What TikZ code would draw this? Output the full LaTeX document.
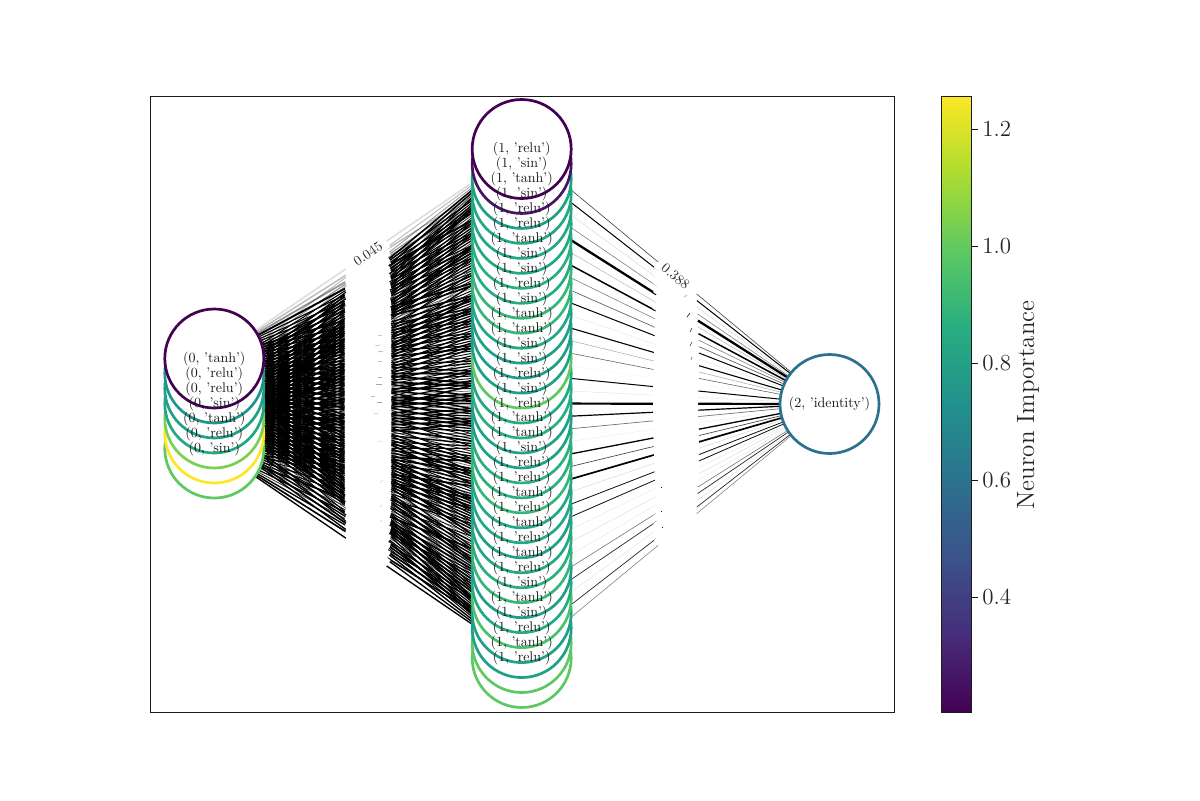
\documentclass[tikz,border=0pt]{standalone}
\usetikzlibrary{calc}
\pgfdeclarelayer{paper}\pgfdeclarelayer{edges}\pgfdeclarelayer{bands}\pgfdeclarelayer{labels}
\pgfsetlayers{paper,edges,bands,main,labels}
\definecolor{framec}{HTML}{1A1A1A}
\definecolor{va}{HTML}{440154}\definecolor{vb}{HTML}{471365}
\definecolor{vc}{HTML}{1F968B}\definecolor{vd}{HTML}{1F9E89}
\definecolor{ve}{HTML}{1FA187}\definecolor{vf}{HTML}{22A884}
\definecolor{vg}{HTML}{25AB82}\definecolor{vh}{HTML}{2AB07F}
\definecolor{vi}{HTML}{35B779}\definecolor{vj}{HTML}{4AC16D}
\definecolor{vk}{HTML}{5EC962}\definecolor{vl}{HTML}{7AD151}
\definecolor{vm}{HTML}{FDE725}\definecolor{vn}{HTML}{2C728E}
\definecolor{v0}{HTML}{440154}\definecolor{v1}{HTML}{472D7B}
\definecolor{v2}{HTML}{3B528B}\definecolor{v3}{HTML}{2C728E}
\definecolor{v4}{HTML}{21918C}\definecolor{v5}{HTML}{28AE80}
\definecolor{v6}{HTML}{5EC962}\definecolor{v7}{HTML}{ADDC30}
\definecolor{v8}{HTML}{FDE725}
\pgfdeclareverticalshading{viridisbar}{100bp}{color(0bp)=(v0); color(25bp)=(v0); color(31.25bp)=(v1); color(37.5bp)=(v2); color(43.75bp)=(v3); color(50bp)=(v4); color(56.25bp)=(v5); color(62.5bp)=(v6); color(68.75bp)=(v7); color(75bp)=(v8); color(100bp)=(v8)}
\tikzset{
  neuron/.style={circle,draw=#1,fill=white,line width=1.35pt,minimum size=49.5pt,inner sep=0pt},
  nlabel/.style={inner sep=0pt,scale=0.7,font=\fontsize{10}{12}\selectfont,text=black!90},
  elabel/.style={inner sep=0pt,scale=0.7,font=\fontsize{10}{12}\selectfont,text=black!85},
  bandline/.style={white,line width=7pt},
  ticktext/.style={anchor=west,inner sep=0pt,font=\fontsize{11.5}{13}\selectfont,text=black!85},
  remnant/.style={line width=0.3pt,black},
}
\begin{document}
\begin{tikzpicture}[x=0.5pt,y=-0.5pt]
\useasboundingbox (0,0) rectangle (1200,800);
\begin{pgfonlayer}{paper}
\fill[white] (0,0) rectangle (1200,800);
\end{pgfonlayer}
% output node
\node[neuron=vn] (c) at (829.5,404) {};
\begin{pgfonlayer}{labels}
\node[nlabel] (lc) at (c) {(2, 'identity')};
\end{pgfonlayer}
% middle layer, bottom first
\foreach \j/\t/\col in {34/relu/vk,33/tanh/vk,32/relu/ve,31/sin/ve,30/tanh/vj,29/sin/vg,28/relu/vd,27/tanh/vi,26/relu/vh,25/tanh/vf,24/relu/ve,23/tanh/vf,22/relu/vf,21/relu/vi,20/tanh/vh,19/sin/vh,18/tanh/ve,17/tanh/ve,16/relu/vh,15/sin/vf,14/relu/vk,13/sin/ve,12/relu/vd,11/sin/ve,10/sin/vf,9/tanh/vi,8/tanh/vi,7/sin/vg,6/relu/vh,5/sin/vf,4/sin/vf,3/tanh/vf,2/relu/ve}{
  \pgfmathsetmacro{\yy}{149+14.97*\j}
  \node[neuron=\col] (b\j) at (521.7,\yy) {};
}
\node[neuron=vb] (b1) at (521.7,163.97) {};
\node[neuron=va] (b0) at (521.7,149) {};
% input layer, bottom first
\foreach \i/\col in {6/vk,5/vm,4/vl,3/vf,2/ve,1/vc,0/va}{
  \pgfmathsetmacro{\yy}{358.5+15*\i}
  \node[neuron=\col] (a\i) at (214.3,\yy) {};
}
\begin{pgfonlayer}{labels}
\foreach \i/\t in {0/tanh,1/relu,2/relu,3/sin,4/tanh,5/relu,6/sin}{
  \node[nlabel] (la\i) at (a\i) {(0, '\t')};
}
\foreach \j/\t in {0/relu,1/sin,2/tanh,3/sin,4/relu,5/relu,6/tanh,7/sin,8/sin,9/relu,10/sin,11/tanh,12/tanh,13/sin,14/sin,15/relu,16/sin,17/relu,18/tanh,19/tanh,20/sin,21/relu,22/relu,23/tanh,24/relu,25/tanh,26/relu,27/tanh,28/relu,29/sin,30/tanh,31/sin,32/relu,33/tanh,34/relu}{
  \node[nlabel] (lb\j) at (b\j) {(1, '\t')};
}
\path (a0.center) -- node[elabel,sloped] (w1) {0.045} (b0.center);
\path (b0.center) -- node[elabel,sloped] (w2) {0.388} (c.center);
\end{pgfonlayer}
% connectors
\begin{pgfonlayer}{edges}
\pgfmathsetseed{4217}
\foreach \i in {0,...,6}{
  \foreach \j in {0,...,34}{
    \pgfmathsetmacro{\r}{rnd}
    \pgfmathsetmacro{\wd}{0.34+0.62*\r}
    \pgfmathsetmacro{\opp}{min(1,0.55+2*\r)}
    \pgfmathsetmacro{\op}{ifthenelse(\i+\j<3,0.12+0.15*(\i+\j),\opp)}
    \draw[line width=\wd pt,black,opacity=\op] (a\i.center) -- (b\j.center);
  }
}
\foreach \j/\w/\op in {0/.6/.75,1/1/1,2/.5/.15,3/.6/.5,4/2.3/1,5/.6/.25,6/1.5/1,7/.6/.5,8/.7/.6,9/1/1,10/.4/.1,11/1.1/1,12/.6/.3,13/.6/.6,14/.3/.05,15/1/1,16/.4/.12,17/2.2/1,18/1.2/1,19/.7/.55,20/.4/.08,21/1.3/1,22/.7/.7,23/1.7/1,24/.5/.15,25/.8/.95,26/.8/.95,27/.4/.1,28/.4/.15,29/.4/.1,30/.6/.55,31/.7/.85,32/.4/.12,33/.7/.85,34/.5/.55}{
  \draw[line width=0.5*\w pt,black,opacity=\op] (b\j.center) -- (c.center);
}
\end{pgfonlayer}
% white boxes of the edge labels
\begin{pgfonlayer}{bands}
\foreach \i in {0,...,6}{
  \foreach \j in {0,...,34}{
    \draw[bandline] ($(a\i.center)!.5!(b\j.center)!11.25pt!(b\j.center)$) -- ($(a\i.center)!.5!(b\j.center)!-11.25pt!(b\j.center)$);
  }
}
\foreach \j in {0,...,34}{
  \draw[bandline] ($(b\j.center)!.5!(c.center)!11.25pt!(c.center)$) -- ($(b\j.center)!.5!(c.center)!-11.25pt!(c.center)$);
}
% remains of covered labels
\foreach \x/\y/\dx/\dy/\g in {690/313/-3/4/90,692/328/-2/4/85,692/342/-2/4/80,692/357/-1/3/60,687/295/-3/2/35,661/487/1/0/90,661/511/1/0/90,662/527/1/0/90,
  382/335/-4/1/30,380/345/-5/1/25,383/351/-5/1/35,382/361/-4/0/25,382/377/-4/0/30,382/384/-6/0/35,375/396/-4/0/25,382/402/-5/0/35,378/413/-4/0/18,382/441/-5/1/15,383/480/-3/3/15,382/505/-2/2/15,382/520/-2/2/18}{
  \draw[remnant,black!\g] (\x,\y) -- ++(\dx,\dy);
}
\end{pgfonlayer}
% axes frame
\draw[framec,line width=0.5pt] (150,96) rectangle (894,712);
% colour bar
\shade[shading=viridisbar] (941,96) rectangle (971,712);
\draw[framec,line width=0.5pt] (941,96) rectangle (971,712);
\foreach \val/\y in {1.2/129,1.0/246,0.8/363,0.6/480,0.4/597}{
  \coordinate (t\y) at (971,\y);
  \draw[framec,line width=0.5pt] (t\y) -- ++(7,0) coordinate (te\y);
  \node[ticktext] (n\y) at ($(te\y)+(4,0)$) {\val};
}
\node[rotate=90,inner sep=0pt,font=\fontsize{12.5}{14}\selectfont,text=black!85] (cbl) at (1028,405) {Neuron Importance};
\end{tikzpicture}
\end{document}
